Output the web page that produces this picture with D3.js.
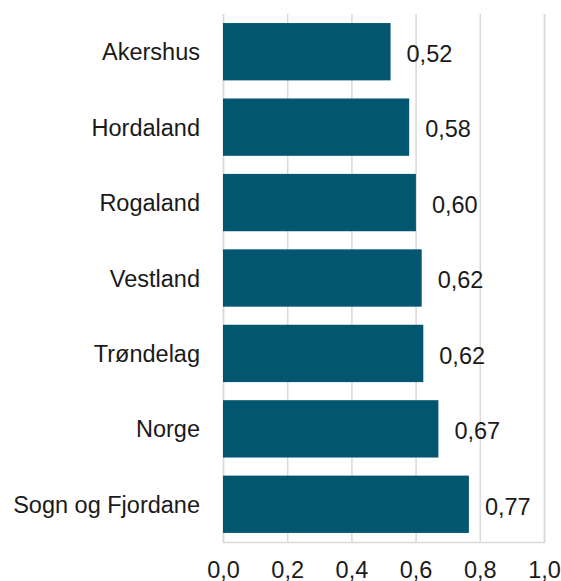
<!DOCTYPE html>
<html>
<head>
<meta charset="utf-8">
<script src="https://cdn.jsdelivr.net/npm/d3@7"></script>
<style>
  body { margin: 0; background: #fff; }
  text { font-family: "Liberation Sans", Arial, sans-serif; fill: #1a1a1a; }
</style>
</head>
<body>
<div id="graphic"></div>
<script>
// regions, top to bottom
const regions = ['Akershus', 'Hordaland', 'Rogaland', 'Vestland', 'Trøndelag', 'Norge', 'Sogn og Fjordane'];
const values = [0.522, 0.58, 0.601, 0.619, 0.624, 0.671, 0.766];
const xTicks = [0, 0.2, 0.4, 0.6, 0.8, 1.0];

(function () {
  var width = 561;
  var height = 581;
  var margin = { top: 14, right: 17, bottom: 39, left: 223 };
  var fontSize = 23.5;

  var svg = d3.select('#graphic')
    .append('svg')
    .attr('width', width)
    .attr('height', height);

  var x = d3.scaleLinear()
    .domain([0, 1])
    .range([margin.left, width - margin.right]);

  var y = d3.scaleBand()
    .domain(regions)
    .range([margin.top, height - margin.bottom])
    .paddingInner(0.24)
    .paddingOuter(0.12);

  // norwegian decimal comma
  var comma = v => d3.format('.1f')(v).replace('.', ',');
  var comma2 = v => d3.format('.2f')(v).replace('.', ',');

  // gridlines + bottom axis
  var axis = svg.append('g')
    .attr('transform', 'translate(0,' + (height - margin.bottom) + ')')
    .call(d3.axisBottom(x)
      .tickValues(xTicks)
      .tickSize(-(height - margin.top - margin.bottom))
      .tickFormat(comma));

  axis.select('.domain').attr('stroke', '#d9d9d9').attr('stroke-width', 1.5);
  axis.selectAll('.tick line').attr('stroke', '#d9d9d9').attr('stroke-width', 1.5);
  axis.selectAll('.tick text')
    .attr('y', 35.5)
    .attr('dy', null)
    .style('font-size', fontSize + 'px')
    .style('fill', '#1a1a1a');

  var data = regions.map((r, i) => ({ region: r, value: values[i] }));

  svg.append('g')
    .selectAll('rect')
    .data(data)
    .enter().append('rect')
    .attr('x', x(0))
    .attr('y', d => y(d.region))
    .attr('width', d => x(d.value) - x(0))
    .attr('height', y.bandwidth())
    .attr('fill', '#03566f');

  // category labels
  svg.append('g')
    .selectAll('text')
    .data(data)
    .enter().append('text')
    .attr('x', x(0) - 23)
    .attr('y', d => y(d.region) + y.bandwidth() / 2 + 8.6)
    .attr('text-anchor', 'end')
    .style('font-size', fontSize + 'px')
    .text(d => d.region);

  // value labels
  svg.append('g')
    .selectAll('text')
    .data(data)
    .enter().append('text')
    .attr('x', d => x(d.value) + 16)
    .attr('y', d => y(d.region) + y.bandwidth() / 2 + 10.3)
    .style('font-size', fontSize + 'px')
    .text(d => comma2(d.value));
})()
</script>
</body>
</html>
